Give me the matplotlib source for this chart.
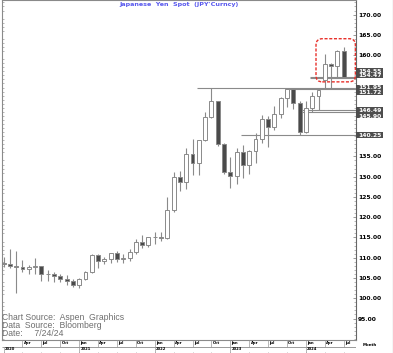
import matplotlib
matplotlib.use('Agg')
from matplotlib import pyplot as plt
from matplotlib.patches import FancyBboxPatch, Rectangle
from matplotlib.ticker import MultipleLocator, FormatStrFormatter
from matplotlib.transforms import ScaledTranslation

plt.rcParams['font.family'] = ['DejaVu Sans']

# monthly USD/JPY bars, Jan 2020 - Jul 2024
months = ['2020-01', '2020-02', '2020-03', '2020-04', '2020-05', '2020-06',
          '2020-07', '2020-08', '2020-09', '2020-10', '2020-11', '2020-12',
          '2021-01', '2021-02', '2021-03', '2021-04', '2021-05', '2021-06',
          '2021-07', '2021-08', '2021-09', '2021-10', '2021-11', '2021-12',
          '2022-01', '2022-02', '2022-03', '2022-04', '2022-05', '2022-06',
          '2022-07', '2022-08', '2022-09', '2022-10', '2022-11', '2022-12',
          '2023-01', '2023-02', '2023-03', '2023-04', '2023-05', '2023-06',
          '2023-07', '2023-08', '2023-09', '2023-10', '2023-11', '2023-12',
          '2024-01', '2024-02', '2024-03', '2024-04', '2024-05', '2024-06',
          '2024-07']
opens = [108.7, 108.5, 107.9, 107.6, 107.2, 107.8, 108.0, 105.9, 105.9, 105.5,
         104.65, 104.3, 103.25, 104.7, 106.6, 110.7, 109.3, 109.6, 111.1, 109.7,
         110.0, 111.3, 113.95, 113.15, 115.1, 115.1, 114.95, 121.7, 129.8, 128.7,
         135.7, 133.3, 138.95, 144.7, 148.7, 138.05, 131.1, 130.1, 136.2, 132.85,
         136.3, 139.3, 144.3, 142.3, 145.5, 149.35, 151.7, 148.2, 141.0, 146.9,
         149.95, 153.9, 157.8, 157.3, 160.9]
highs = [110.3, 112.2, 111.7, 109.4, 108.1, 109.85, 108.0, 107.05, 106.55, 106.1,
         105.7, 104.75, 104.9, 106.7, 110.95, 110.95, 110.2, 111.1, 111.65, 110.8,
         112.1, 114.7, 115.5, 115.2, 116.35, 116.35, 125.1, 131.25, 131.35, 137.0,
         139.4, 139.0, 145.9, 151.95, 148.8, 138.2, 134.8, 137.1, 137.9, 136.55,
         140.9, 145.1, 145.05, 147.4, 149.7, 151.72, 151.9, 148.7, 148.8, 150.9,
         151.97, 160.2, 157.99, 161.3, 161.95]
lows = [107.65, 107.5, 101.2, 106.4, 106.0, 106.1, 104.2, 104.2, 104.0, 104.0,
        103.2, 102.9, 102.6, 104.4, 106.35, 107.5, 108.35, 108.6, 109.05, 108.7,
        109.1, 110.8, 112.5, 112.55, 113.5, 114.15, 114.65, 121.3, 126.35, 126.85,
        130.4, 130.4, 138.75, 144.5, 137.5, 130.6, 127.2, 128.1, 129.65, 130.6,
        133.5, 138.4, 137.25, 141.5, 144.45, 147.3, 146.7, 140.25, 140.8, 145.9,
        146.49, 152.0, 151.86, 154.55, 154.47]
closes = [108.5, 107.9, 107.6, 107.2, 107.8, 107.9, 105.9, 105.9, 105.5, 104.65,
          104.3, 103.25, 104.7, 106.6, 110.7, 109.3, 109.6, 111.1, 109.7, 110.0,
          111.3, 113.95, 113.15, 115.1, 115.1, 114.95, 121.7, 129.8, 128.7, 135.7,
          133.3, 138.95, 144.7, 148.7, 138.05, 131.1, 130.1, 136.2, 132.85, 136.3,
          139.3, 144.3, 142.3, 145.5, 149.35, 151.7, 148.2, 141.0, 146.9, 149.95,
          151.35, 157.8, 157.3, 160.9, 154.6]

# support / resistance levels and the month each line starts from
level_values = [154.55, 154.47, 151.95, 151.72, 146.49, 145.90, 140.25]
level_from = ['2024-02', '2024-02', '2022-08', '2023-10', '2023-12', '2023-12', '2023-03']

title = "Japanese  Yen  Spot  (JPY'Curncy)"
notes = ['Chart Source:  Aspen  Graphics', 'Data  Source:  Bloomberg', 'Date:     7/24/24']
month_abbr = {1: 'Jan', 4: 'Apr', 7: 'Jul', 10: 'Oct'}

W, H = 393, 353
fig = plt.figure(figsize=(W / 100, H / 100), dpi=100)
ax = fig.add_axes([2 / W, 13 / H, 354 / W, 340 / H])
ax.set_xlim(-0.25, 55.95)
ax.set_ylim(89.7, 173.6)

edge = '#8a8a8a'
for i in range(len(months)):
    o, h, l, c = opens[i], highs[i], lows[i], closes[i]
    ax.vlines(i, l, h, color=edge, lw=0.8, zorder=2)
    ax.bar(i, abs(c - o), bottom=min(o, c), width=0.62,
           color='white' if c >= o else '#4a4a4a', edgecolor=edge, lw=0.7, zorder=3)

for v, m in zip(level_values, level_from):
    ax.hlines(v, months.index(m) - 0.3, 55.95, color='#8a8a8a', lw=0.8, zorder=1)

# red dashed highlight round the last four bars
x0, x1 = len(months) - 4 - 1.4, 55.85
y0, y1 = min(closes[-4:]) - 1.2, max(highs[-4:]) + 2.1
box = FancyBboxPatch((x0, y0), x1 - x0, y1 - y0,
                     boxstyle='round,pad=0,rounding_size=1.0',
                     mutation_aspect=6.3 / 4.05, fill=False,
                     edgecolor='#e8302a', lw=1.0, ls=(0, (2.2, 1.2)), zorder=5)
ax.add_patch(box)

# right axis
ax.yaxis.tick_right()
ax.set_yticks([95, 100, 105, 110, 115, 120, 125, 130, 135, 160, 165, 170])
ax.yaxis.set_major_formatter(FormatStrFormatter('%.2f'))
ax.yaxis.set_minor_locator(MultipleLocator(1))
ax.tick_params(axis='y', which='major', labelsize=4.35, pad=1.5, length=2,
               direction='in', width=0.6, colors='#888888', labelcolor='black')
ax.tick_params(axis='y', which='minor', left=True, right=True, length=1.5,
               direction='in', width=0.5, color='#9a9a9a')
for t in ax.get_yticklabels():
    t.set_fontweight('bold')
ax.set_xticks([])
for s in ['top', 'bottom', 'left']:
    ax.spines[s].set_color('#8a8a8a')
    ax.spines[s].set_linewidth(0.8)
ax.spines['right'].set_color('#666666')
ax.spines['right'].set_linewidth(0.8)

# boxed level labels on the right axis
label_shift = [-6.6, -2.1, -0.5, 3.7, 0.2, 3.4, -0.2]
ppu = 340 / (173.6 - 89.7)
yx = ax.get_yaxis_transform()
for v, dy in zip(level_values, label_shift):
    tr = yx + ScaledTranslation(0, -dy / 100, fig.dpi_scale_trans)
    ax.add_patch(Rectangle((1.0, v - 2.7 / ppu), 27 / 354, 5.4 / ppu, transform=tr,
                           facecolor='#4d4d4d', edgecolor='none', clip_on=False, zorder=6))
    ax.text(1.0 + 2 / 354, v, f'{v:.2f}', transform=tr, color='white', fontsize=4.35,
            fontweight='bold', va='center_baseline', ha='left', clip_on=False, zorder=7)

ax.text(0.5, 0.995, title, transform=ax.transAxes, ha='center', va='top',
        fontsize=4.6, fontweight='bold', color='#5a5aee')
for k, line in enumerate(notes):
    fig.text(2 / W, 1 - (317 + 8.3 * k) / H, line, ha='left', va='center',
             fontsize=6.2, color='#6e6e6e', family='Liberation Sans')

# month / year band under the chart
bx = fig.add_axes([2 / W, 0, 354 / W, 13 / H])
bx.set_xlim(ax.get_xlim())
bx.set_ylim(0, 13)
bx.axis('off')
bx.hlines([6.5, 12.9], -0.25, 55.95, color='#8a8a8a', lw=0.6)
for i, m in enumerate(months):
    yr, mo = int(m[:4]), int(m[5:])
    if mo in month_abbr and i > 0:
        bx.vlines(i, 6.5, 13, color='#9a9a9a', lw=0.5)
        bx.text(i + 0.2, 9.7, month_abbr[mo], fontsize=2.7, fontweight='bold',
                ha='left', va='center')
    if mo in month_abbr:
        bx.vlines(i, 0, 1.5, color='#9a9a9a', lw=0.5)
    if mo == 1:
        bx.vlines(i, 0, 6.5, color='#9a9a9a', lw=0.5)
        bx.text(i + 0.2, 3.8, str(yr), fontsize=2.7, fontweight='bold',
                ha='left', va='center')
fig.text(370 / W, 1 - 345.5 / H, 'Month', fontsize=2.9, fontweight='bold',
         ha='center', va='center')
fig.add_artist(plt.Line2D([392.5 / W, 392.5 / W], [0, 1], color='#555555', lw=0.8))

fig.savefig('out.png', dpi=100)
plt.close('all')
